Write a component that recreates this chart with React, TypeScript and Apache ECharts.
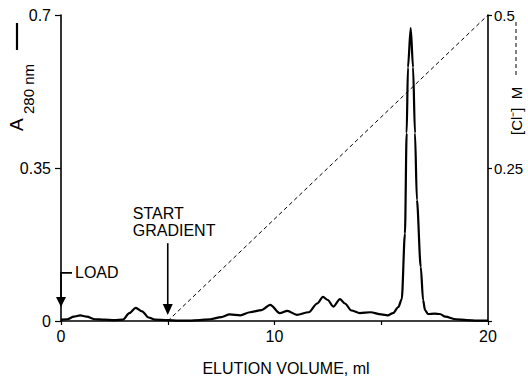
import React, { useEffect, useRef } from "react";
import * as echarts from "echarts";

// Elution volume (ml) and absorbance at 280 nm
const volume = [
  0, 0.3, 0.6, 0.9, 1.2, 1.6, 2.0, 2.5, 2.9, 3.2, 3.5, 3.8, 4.1, 4.4, 5.0, 5.5,
  6.0, 6.5, 7.0, 7.5, 7.9, 8.4, 8.85, 9.4, 9.8, 10.25, 10.6, 11.05, 11.6, 12.0,
  12.27, 12.5, 12.75, 13.07, 13.3, 13.6, 14.0, 14.5, 15.0, 15.3, 15.55, 15.8,
  15.96, 16.11, 16.19, 16.25, 16.38, 16.49, 16.58, 16.67, 16.85, 16.96, 17.05,
  17.19, 17.5, 17.75, 18.0, 18.5, 19.0, 19.5, 20.0,
];
const absorbance = [
  0.003, 0.004, 0.01, 0.013, 0.01, 0.004, 0.003, 0.002, 0.003, 0.018, 0.03,
  0.022, 0.008, 0.003, 0.002, 0.001, 0.001, 0.002, 0.004, 0.009, 0.015, 0.013,
  0.02, 0.025, 0.037, 0.018, 0.023, 0.014, 0.02, 0.04, 0.055, 0.048, 0.033,
  0.05, 0.04, 0.024, 0.018, 0.02, 0.015, 0.013, 0.018, 0.032, 0.05, 0.2, 0.43,
  0.58, 0.67, 0.58, 0.43, 0.277, 0.124, 0.048, 0.025, 0.016, 0.017, 0.016,
  0.01, 0.004, 0.002, 0.001, 0.001,
];

// Chloride gradient (M): starts at 5 ml, reaches 0.5 M at 20 ml
const gradientVolume = [5, 20];
const gradientConc = [0, 0.5];

// Axis ticks
const xTicks = [0, 10, 20];
const leftTicks = [0, 0.35, 0.7];
const rightTicks = [0.25, 0.5];

// Annotation anchors (volume, absorbance)
const loadMark = [0, 0.11, 0.032];
const startMark = [5, 0.178, 0.014];

const FONT = '"Liberation Sans", Arial, Helvetica, sans-serif';

export default function App() {
  const ref = useRef<HTMLDivElement>(null);
  useEffect(() => {
    if (!ref.current) return;
    const chart = echarts.init(ref.current, null, { renderer: "svg" });
    const lineData = volume.map((v, i) => [v, absorbance[i]]);
    const gradData = gradientVolume.map((v, i) => [v, gradientConc[i]]);
    const axisCommon = {
      axisLine: { show: true, lineStyle: { color: "#000", width: 1.6 } },
      splitLine: { show: false },
    };
    chart.setOption({
      animation: false,
      backgroundColor: "#fff",
      grid: { left: 61, right: 40, top: 15, bottom: 56 },
      xAxis: {
        type: "value",
        min: 0,
        max: 20,
        interval: 5,
        ...axisCommon,
        axisTick: { show: true, length: 4, lineStyle: { color: "#000", width: 1.2 } },
        axisLabel: {
          color: "#000",
          fontFamily: FONT,
          fontSize: 16,
          margin: 7,
          formatter: (v: number) => (xTicks.includes(v) ? String(v) : ""),
        },
      },
      yAxis: [
        {
          type: "value",
          min: 0,
          max: 0.7,
          interval: 0.35,
          position: "left",
          ...axisCommon,
          axisTick: { show: true, length: 6, lineStyle: { color: "#000", width: 1.2 } },
          axisLabel: {
            color: "#000",
            fontFamily: FONT,
            fontSize: 16,
            margin: 10,
            formatter: (v: number) =>
              leftTicks.some((t) => Math.abs(t - v) < 1e-9) ? String(v) : "",
          },
        },
        {
          type: "value",
          min: 0,
          max: 0.5,
          interval: 0.25,
          position: "right",
          ...axisCommon,
          axisTick: { show: true, length: 4, lineStyle: { color: "#000", width: 1.2 } },
          axisLabel: {
            color: "#000",
            fontFamily: FONT,
            fontSize: 15,
            margin: 6,
            formatter: (v: number) =>
              rightTicks.some((t) => Math.abs(t - v) < 1e-9) ? String(v) : "",
          },
        },
      ],
      series: [
        {
          type: "line",
          data: lineData,
          yAxisIndex: 0,
          showSymbol: false,
          symbol: "none",
          smooth: 0.3,
          smoothMonotone: "x",
          lineStyle: { color: "#000", width: 2.2 },
          z: 3,
        },
        {
          type: "line",
          data: gradData,
          yAxisIndex: 1,
          showSymbol: false,
          symbol: "none",
          lineStyle: { color: "#000", width: 1, type: [4, 3] },
          z: 2,
        },
      ],
    });

    const px = (x: number, y: number) =>
      chart.convertToPixel({ xAxisIndex: 0, yAxisIndex: 0 }, [x, y]) as number[];

    const lTop = px(loadMark[0], loadMark[1]);
    const lTip = px(loadMark[0], loadMark[2]);
    const sTop = px(startMark[0], startMark[1]);
    const sTip = px(startMark[0], startMark[2]);
    const black = { stroke: "#000", lineWidth: 1.6 };
    const textStyle = (text: string, size = 16) => ({
      text,
      fill: "#000",
      font: `${size}px ${FONT}`,
    });

    chart.setOption({
      graphic: [
        // LOAD bracket & arrow
        {
          type: "polyline",
          shape: { points: [[lTop[0] + 11, lTop[1]], [lTop[0], lTop[1]], [lTip[0], lTip[1] - 9]] },
          style: { ...black, fill: "none" },
        },
        {
          type: "polygon",
          shape: { points: [[lTip[0], lTip[1]], [lTip[0] - 5, lTip[1] - 10], [lTip[0] + 5, lTip[1] - 10]] },
          style: { fill: "#000" },
        },
        {
          type: "text",
          x: lTop[0] + 14,
          y: lTop[1],
          style: { ...textStyle("LOAD"), textAlign: "left", textVerticalAlign: "middle" },
        },
        // START GRADIENT arrow
        {
          type: "line",
          shape: { x1: sTop[0], y1: sTop[1], x2: sTip[0], y2: sTip[1] - 9 },
          style: black,
        },
        {
          type: "polygon",
          shape: { points: [[sTip[0], sTip[1]], [sTip[0] - 5, sTip[1] - 11], [sTip[0] + 5, sTip[1] - 11]] },
          style: { fill: "#000" },
        },
        {
          type: "text",
          x: sTop[0] - 35,
          y: sTop[1] - 30,
          style: { ...textStyle("START"), textAlign: "left", textVerticalAlign: "middle" },
        },
        {
          type: "text",
          x: sTop[0] - 35,
          y: sTop[1] - 13,
          style: { ...textStyle("GRADIENT"), textAlign: "left", textVerticalAlign: "middle" },
        },
        // x axis name
        {
          type: "text",
          x: 286,
          y: 368,
          style: { ...textStyle("ELUTION VOLUME, ml"), textAlign: "center", textVerticalAlign: "middle" },
        },
        // left axis name: A280 nm ——
        {
          type: "group",
          x: 16,
          y: 131,
          rotation: Math.PI / 2,
          children: [
            {
              type: "text",
              x: 0,
              y: 0,
              style: { ...textStyle("A", 19), textAlign: "left", textVerticalAlign: "middle" },
            },
            {
              type: "text",
              x: 17,
              y: 12,
              style: { ...textStyle("280 nm", 15), textAlign: "left", textVerticalAlign: "middle" },
            },
            {
              type: "line",
              shape: { x1: 81, y1: 1, x2: 108, y2: 1 },
              style: { stroke: "#000", lineWidth: 2.2 },
            },
          ],
        },
        // right axis name: [Cl⁻] M - - - -
        {
          type: "group",
          x: 516,
          y: 135,
          rotation: Math.PI / 2,
          children: [
            {
              type: "text",
              x: 0,
              y: 0,
              style: { ...textStyle("[Cl\u207B]  M", 15), textAlign: "left", textVerticalAlign: "middle" },
            },
            {
              type: "line",
              shape: { x1: 60, y1: 0, x2: 114, y2: 0 },
              style: { stroke: "#000", lineWidth: 1, lineDash: [4, 3] },
            },
          ],
        },
      ],
    });

    return () => chart.dispose();
  }, []);
  return (
    <div
      ref={ref}
      style={{ position: "fixed", left: 0, top: 0, width: 528, height: 377, background: "#fff" }}
    />
  );
}
